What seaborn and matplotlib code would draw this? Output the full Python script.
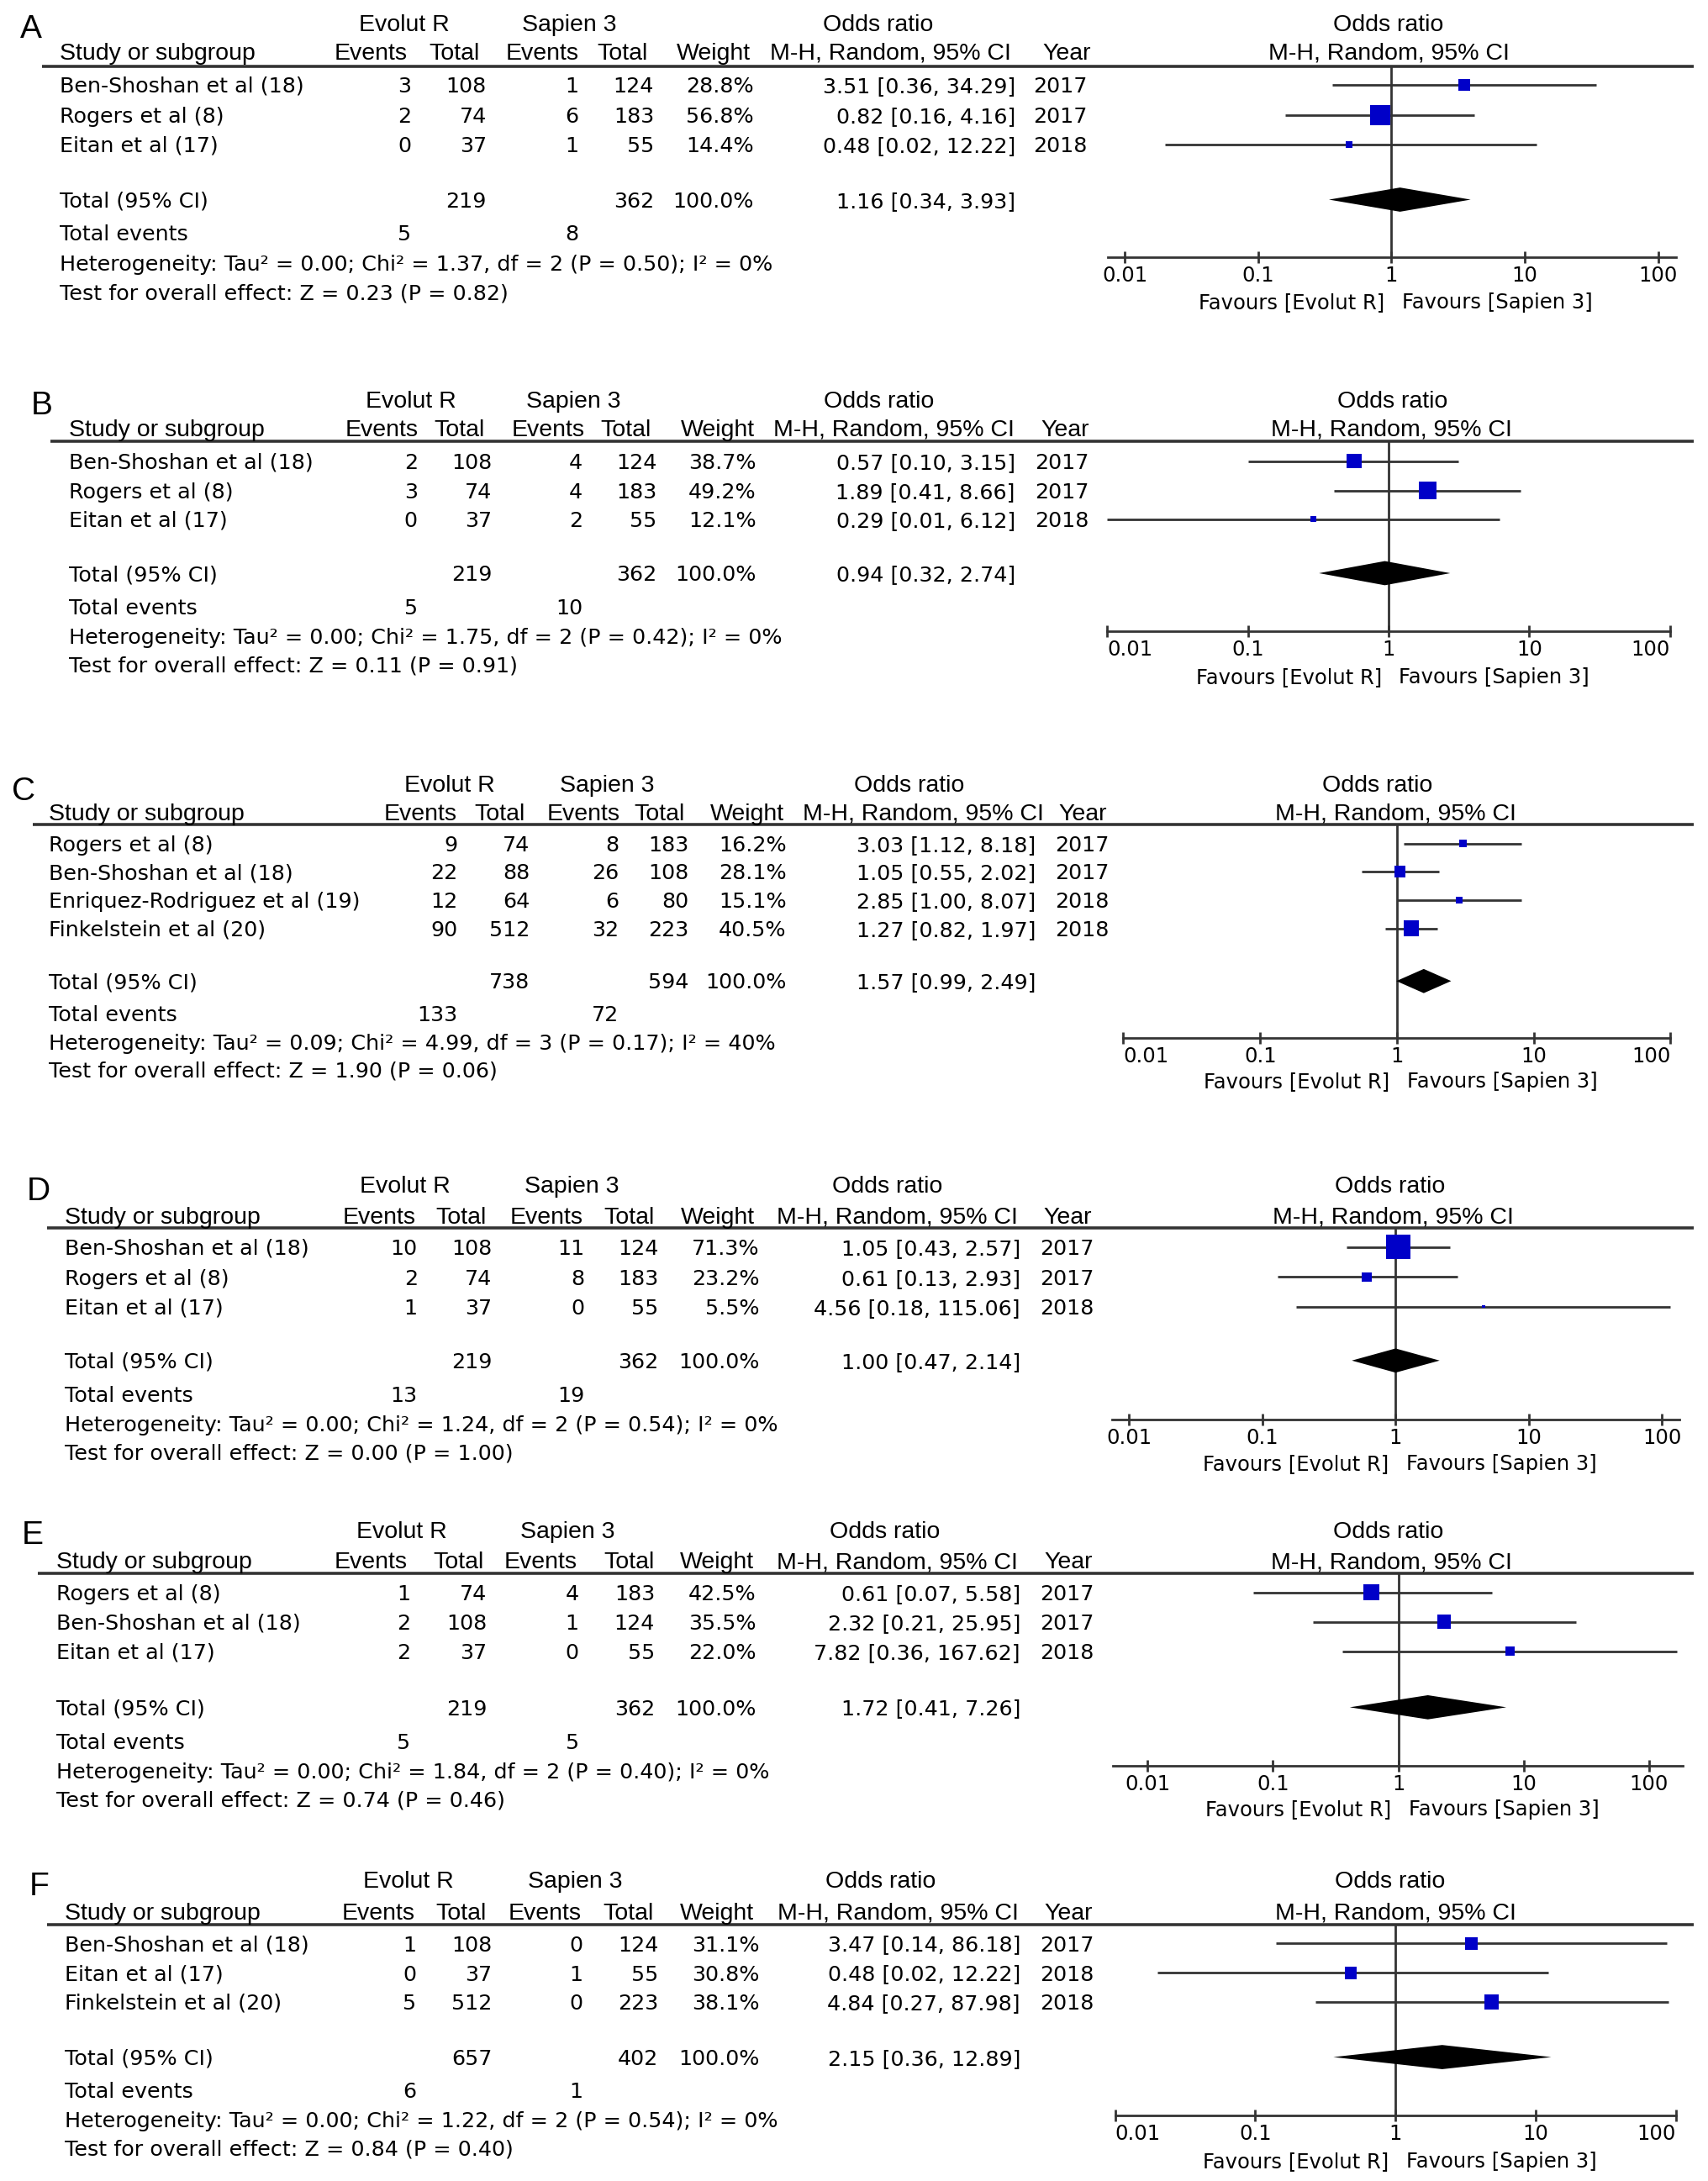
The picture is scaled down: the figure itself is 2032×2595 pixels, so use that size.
import matplotlib
matplotlib.use("Agg")
import matplotlib.pyplot as plt
import seaborn as sns
from matplotlib.ticker import NullLocator

# ---------------- data ----------------
a_study = ["Ben-Shoshan et al (18)", "Rogers et al (8)", "Eitan et al (17)"]
a_ev1 = [3, 2, 0]
a_n1 = [108, 74, 37]
a_ev2 = [1, 6, 1]
a_n2 = [124, 183, 55]
a_weight = [28.8, 56.8, 14.4]
a_or = [3.51, 0.82, 0.48]
a_lo = [0.36, 0.16, 0.02]
a_hi = [34.29, 4.16, 12.22]
a_year = [2017, 2017, 2018]
a_total = [219, 362]
a_pooled = [1.16, 0.34, 3.93]
a_events = [5, 8]
a_het = "Tau\u00b2 = 0.00; Chi\u00b2 = 1.37, df = 2 (P = 0.50); I\u00b2 = 0%"
a_z = "Z = 0.23 (P = 0.82)"

b_study = ["Ben-Shoshan et al (18)", "Rogers et al (8)", "Eitan et al (17)"]
b_ev1 = [2, 3, 0]
b_n1 = [108, 74, 37]
b_ev2 = [4, 4, 2]
b_n2 = [124, 183, 55]
b_weight = [38.7, 49.2, 12.1]
b_or = [0.57, 1.89, 0.29]
b_lo = [0.10, 0.41, 0.01]
b_hi = [3.15, 8.66, 6.12]
b_year = [2017, 2017, 2018]
b_total = [219, 362]
b_pooled = [0.94, 0.32, 2.74]
b_events = [5, 10]
b_het = "Tau\u00b2 = 0.00; Chi\u00b2 = 1.75, df = 2 (P = 0.42); I\u00b2 = 0%"
b_z = "Z = 0.11 (P = 0.91)"

c_study = ["Rogers et al (8)", "Ben-Shoshan et al (18)",
           "Enriquez-Rodriguez et al (19)", "Finkelstein et al (20)"]
c_ev1 = [9, 22, 12, 90]
c_n1 = [74, 88, 64, 512]
c_ev2 = [8, 26, 6, 32]
c_n2 = [183, 108, 80, 223]
c_weight = [16.2, 28.1, 15.1, 40.5]
c_or = [3.03, 1.05, 2.85, 1.27]
c_lo = [1.12, 0.55, 1.00, 0.82]
c_hi = [8.18, 2.02, 8.07, 1.97]
c_year = [2017, 2017, 2018, 2018]
c_total = [738, 594]
c_pooled = [1.57, 0.99, 2.49]
c_events = [133, 72]
c_het = "Tau\u00b2 = 0.09; Chi\u00b2 = 4.99, df = 3 (P = 0.17); I\u00b2 = 40%"
c_z = "Z = 1.90 (P = 0.06)"

d_study = ["Ben-Shoshan et al (18)", "Rogers et al (8)", "Eitan et al (17)"]
d_ev1 = [10, 2, 1]
d_n1 = [108, 74, 37]
d_ev2 = [11, 8, 0]
d_n2 = [124, 183, 55]
d_weight = [71.3, 23.2, 5.5]
d_or = [1.05, 0.61, 4.56]
d_lo = [0.43, 0.13, 0.18]
d_hi = [2.57, 2.93, 115.06]
d_year = [2017, 2017, 2018]
d_total = [219, 362]
d_pooled = [1.00, 0.47, 2.14]
d_events = [13, 19]
d_het = "Tau\u00b2 = 0.00; Chi\u00b2 = 1.24, df = 2 (P = 0.54); I\u00b2 = 0%"
d_z = "Z = 0.00 (P = 1.00)"

e_study = ["Rogers et al (8)", "Ben-Shoshan et al (18)", "Eitan et al (17)"]
e_ev1 = [1, 2, 2]
e_n1 = [74, 108, 37]
e_ev2 = [4, 1, 0]
e_n2 = [183, 124, 55]
e_weight = [42.5, 35.5, 22.0]
e_or = [0.61, 2.32, 7.82]
e_lo = [0.07, 0.21, 0.36]
e_hi = [5.58, 25.95, 167.62]
e_year = [2017, 2017, 2018]
e_total = [219, 362]
e_pooled = [1.72, 0.41, 7.26]
e_events = [5, 5]
e_het = "Tau\u00b2 = 0.00; Chi\u00b2 = 1.84, df = 2 (P = 0.40); I\u00b2 = 0%"
e_z = "Z = 0.74 (P = 0.46)"

f_study = ["Ben-Shoshan et al (18)", "Eitan et al (17)", "Finkelstein et al (20)"]
f_ev1 = [1, 0, 5]
f_n1 = [108, 37, 512]
f_ev2 = [0, 1, 0]
f_n2 = [124, 55, 223]
f_weight = [31.1, 30.8, 38.1]
f_or = [3.47, 0.48, 4.84]
f_lo = [0.14, 0.02, 0.27]
f_hi = [86.18, 12.22, 87.98]
f_year = [2017, 2018, 2018]
f_total = [657, 402]
f_pooled = [2.15, 0.36, 12.89]
f_events = [6, 1]
f_het = "Tau\u00b2 = 0.00; Chi\u00b2 = 1.22, df = 2 (P = 0.54); I\u00b2 = 0%"
f_z = "Z = 0.84 (P = 0.40)"

col_headers = ["Events", "Total", "Events", "Total", "Weight",
               "M-H, Random, 95% CI", "Year"]
group_headers = ["Evolut R", "Sapien 3", "Odds ratio"]
tick_vals = [0.01, 0.1, 1, 10, 100]
tick_labels = ["0.01", "0.1", "1", "10", "100"]


def pack(label, study, ev1, n1, ev2, n2, w, orr, lo, hi, year, total, pooled, events, het, z):
    return dict(label=label, study=study, ev1=ev1, n1=n1, ev2=ev2, n2=n2, w=w,
                orr=orr, lo=lo, hi=hi, year=year, total=total, pooled=pooled,
                events=events, het=het, z=z)


panels = [
    pack("A", a_study, a_ev1, a_n1, a_ev2, a_n2, a_weight, a_or, a_lo, a_hi, a_year,
         a_total, a_pooled, a_events, a_het, a_z),
    pack("B", b_study, b_ev1, b_n1, b_ev2, b_n2, b_weight, b_or, b_lo, b_hi, b_year,
         b_total, b_pooled, b_events, b_het, b_z),
    pack("C", c_study, c_ev1, c_n1, c_ev2, c_n2, c_weight, c_or, c_lo, c_hi, c_year,
         c_total, c_pooled, c_events, c_het, c_z),
    pack("D", d_study, d_ev1, d_n1, d_ev2, d_n2, d_weight, d_or, d_lo, d_hi, d_year,
         d_total, d_pooled, d_events, d_het, d_z),
    pack("E", e_study, e_ev1, e_n1, e_ev2, e_n2, e_weight, e_or, e_lo, e_hi, e_year,
         e_total, e_pooled, e_events, e_het, e_z),
    pack("F", f_study, f_ev1, f_n1, f_ev2, f_n2, f_weight, f_or, f_lo, f_hi, f_year,
         f_total, f_pooled, f_events, f_het, f_z),
]

# ---------------- layout (in a 1230 x 1570 reference grid) ----------------
# fx = (x of OR=1, px per decade, extra decades left of 0.01, extra right of 100)
W, H = 1230.0, 1570.0
layout = {
    "A": dict(letter=(22.6, 21.2), hdr_y=(16.1, 36.7), grp_x=(291, 410, 632.5), x0=42.7,
              col_hdr=(267, 327, 390.6, 448, 513.6, 641, 768), line=(30, 48),
              col_r=(296, 350.4, 416.7, 471, 543, 731.4, 744), rows=(61, 82.7, 103.9),
              foot=(143.7, 167.5, 189.3, 210.4),
              fx=(1002, 96, 0.125, 0.135), axis_y=185.2, fav_y=216.9, fhdr_x=(1000, 1000)),
    "B": dict(letter=(30, 292), hdr_y=(287.5, 307.7), grp_x=(296, 413, 633), x0=49.5,
              col_hdr=(274.6, 331, 394.5, 450.8, 517, 644, 767), line=(36.5, 317.8),
              col_r=(300.7, 354.3, 419.5, 473, 544.6, 731, 745), rows=(331.9, 353.1, 373.7),
              foot=(412.6, 436.8, 458, 478),
              fx=(1000, 101.3, 0, 0), axis_y=454.5, fav_y=486.7, fhdr_x=(1003, 1002)),
    "C": dict(letter=(16.7, 570), hdr_y=(563.5, 584), grp_x=(324, 437, 655), x0=35.4,
              col_hdr=(302.8, 360, 420, 474.7, 537.8, 665, 780), line=(23.4, 593.5),
              col_r=(329.3, 381.4, 445.5, 496, 566.4, 746, 760),
              rows=(607.3, 627.5, 648.1, 668.3), foot=(706.2, 729.4, 750, 769.7),
              fx=(1006, 98.5, 0, 0), axis_y=747.2, fav_y=777.8, fhdr_x=(992, 1005)),
    "D": dict(letter=(27.6, 857.7), hdr_y=(852.3, 874.5), grp_x=(291.8, 412, 639), x0=46.9,
              col_hdr=(273, 332, 393.4, 452.8, 517, 646, 768.6), line=(33.9, 884.2),
              col_r=(300.7, 354.3, 421, 474.2, 547, 734.8, 748.8),
              rows=(897.7, 919.3, 940.5), foot=(979.4, 1003.6, 1024.8, 1045),
              fx=(1005, 96, 0.125, 0.13), axis_y=1021.8, fav_y=1052.9, fhdr_x=(1001, 1003)),
    "E": dict(letter=(23.5, 1105.5), hdr_y=(1100.9, 1123), grp_x=(289, 409, 637), x0=40.6,
              col_hdr=(267.3, 330.4, 389, 452.8, 516, 646, 769.7), line=(27.1, 1132.6),
              col_r=(295.5, 350.7, 416.9, 471.6, 544.6, 734.8, 748.8),
              rows=(1146.3, 1167.5, 1188.7), foot=(1229, 1253.3, 1274.5, 1294.7),
              fx=(1007, 90.3, 0.275, 0.27), axis_y=1271, fav_y=1301.7, fhdr_x=(1000, 1002)),
    "F": dict(letter=(28, 1358.4), hdr_y=(1352.7, 1375.5), grp_x=(294.4, 414.3, 634), x0=46.9,
              col_hdr=(272.5, 332, 392.4, 452.3, 516.4, 647, 769.7), line=(33.9, 1385.6),
              col_r=(299.6, 354.3, 419.5, 474.2, 547, 734.8, 748.8),
              rows=(1399, 1420.2, 1441), foot=(1480.8, 1504.6, 1525.8, 1546.3),
              fx=(1005, 101, 0, 0), axis_y=1522.8, fav_y=1555, fhdr_x=(1001, 1005)),
}

HDR_FONT, HDR_SIZE = "Liberation Sans", 20.5
BODY_FONT, BODY_SIZE = "DejaVu Sans", 18.3
TICK_SIZE = 17.5
LINE_COL = "#333333"
SQUARE_COL = "#0000c8"

sns.set_theme(style="white")
plt.rcParams["font.family"] = ["DejaVu Sans"]

fig = plt.figure(figsize=(20.32, 25.95), dpi=100)
bg = fig.add_axes([0, 0, 1, 1])
bg.set_xlim(0, W)
bg.set_ylim(H, 0)
bg.axis("off")


def txt(x, y, s, size=BODY_SIZE, family=BODY_FONT, ha="left"):
    # y is the visual centre of the glyphs; shift to the baseline
    base = y + 0.36 * size * (100 / 72) / 1.652
    bg.text(x, base, s, fontsize=size, family=family, ha=ha, va="baseline", color="black")


for d in panels:
    L = layout[d["label"]]
    # panel letter and headers
    bg.text(L["letter"][0], L["letter"][1], d["label"], fontsize=28, family=HDR_FONT,
            ha="center", va="center", color="black")
    y1, y2 = L["hdr_y"]
    for s, x in zip(group_headers, L["grp_x"]):
        txt(x, y1, s, HDR_SIZE, HDR_FONT, "center")
    txt(L["x0"], y2, "Study or subgroup", HDR_SIZE, HDR_FONT)
    for s, x in zip(col_headers, L["col_hdr"]):
        txt(x, y2, s, HDR_SIZE, HDR_FONT, "center")
    txt(L["fhdr_x"][0], y1, "Odds ratio", HDR_SIZE, HDR_FONT, "center")
    txt(L["fhdr_x"][1], y2, "M-H, Random, 95% CI", HDR_SIZE, HDR_FONT, "center")
    bg.plot([L["line"][0], 1220], [L["line"][1]] * 2, color=LINE_COL, lw=2.6,
            solid_capstyle="butt")

    # study rows
    cr = L["col_r"]
    for i, y in enumerate(L["rows"]):
        txt(L["x0"], y, d["study"][i])
        txt(cr[0], y, str(d["ev1"][i]), ha="right")
        txt(cr[1], y, str(d["n1"][i]), ha="right")
        txt(cr[2], y, str(d["ev2"][i]), ha="right")
        txt(cr[3], y, str(d["n2"][i]), ha="right")
        txt(cr[4], y, f"{d['w'][i]:.1f}%", ha="right")
        txt(cr[5], y, f"{d['orr'][i]:.2f} [{d['lo'][i]:.2f}, {d['hi'][i]:.2f}]", ha="right")
        txt(cr[6], y, str(d["year"][i]))

    # footer rows
    yt, ye, yh, yz = L["foot"]
    txt(L["x0"], yt, "Total (95% CI)")
    txt(cr[1], yt, str(d["total"][0]), ha="right")
    txt(cr[3], yt, str(d["total"][1]), ha="right")
    txt(cr[4], yt, "100.0%", ha="right")
    p = d["pooled"]
    txt(cr[5], yt, f"{p[0]:.2f} [{p[1]:.2f}, {p[2]:.2f}]", ha="right")
    txt(L["x0"], ye, "Total events")
    txt(cr[0], ye, str(d["events"][0]), ha="right")
    txt(cr[2], ye, str(d["events"][1]), ha="right")
    txt(L["x0"], yh, "Heterogeneity: " + d["het"])
    txt(L["x0"], yz, "Test for overall effect: " + d["z"])

    # forest plot
    x1, dec, ext_l, ext_r = L["fx"]
    lo_lim = 10 ** (-2 - ext_l - 1e-6)
    hi_lim = 10 ** (2 + ext_r + 1e-6)
    xl = x1 - (2 + ext_l) * dec
    xr = x1 + (2 + ext_r) * dec
    top, bot = L["line"][1], L["axis_y"]
    ax = fig.add_axes([xl / W, 1 - bot / H, (xr - xl) / W, (bot - top) / H])
    ax.set_facecolor("none")
    ax.set_xscale("log")
    ax.set_xlim(lo_lim, hi_lim)
    ax.set_ylim(bot, top)
    sns.despine(ax=ax, left=True, top=True, right=True)
    ax.spines["bottom"].set_color(LINE_COL)
    ax.spines["bottom"].set_linewidth(2)
    ax.set_yticks([])
    ax.set_xticks(tick_vals)
    ax.set_xticklabels(tick_labels, family=BODY_FONT, fontsize=TICK_SIZE)
    ax.xaxis.set_minor_locator(NullLocator())
    ax.tick_params(axis="x", direction="inout", length=10, width=2, color=LINE_COL,
                   pad=2, labelcolor="black", bottom=True)
    if ext_l == 0:
        labs = ax.get_xticklabels()
        labs[0].set_horizontalalignment("left")
        labs[-1].set_horizontalalignment("right")
    ax.grid(False)
    ax.axvline(1, color=LINE_COL, lw=2)

    rows = list(L["rows"])
    ax.hlines(rows, d["lo"], d["hi"], color=LINE_COL, lw=2)
    sizes = [(0.95 * w ** 0.8 * 0.72) ** 2 for w in d["w"]]
    ax.scatter(d["orr"], rows, s=sizes, marker="s", color=SQUARE_COL, linewidths=0,
               zorder=3)
    hh = 8.7
    ax.fill([p[1], p[0], p[2], p[0]], [yt, yt - hh, yt, yt + hh], color="black",
            lw=0, zorder=3)

    txt(x1 - 5, L["fav_y"], "Favours [Evolut R]", TICK_SIZE, BODY_FONT, "right")
    txt(x1 + 7.5, L["fav_y"], "Favours [Sapien 3]", TICK_SIZE, BODY_FONT, "left")

fig.savefig("out.png", dpi=100, facecolor="white")
